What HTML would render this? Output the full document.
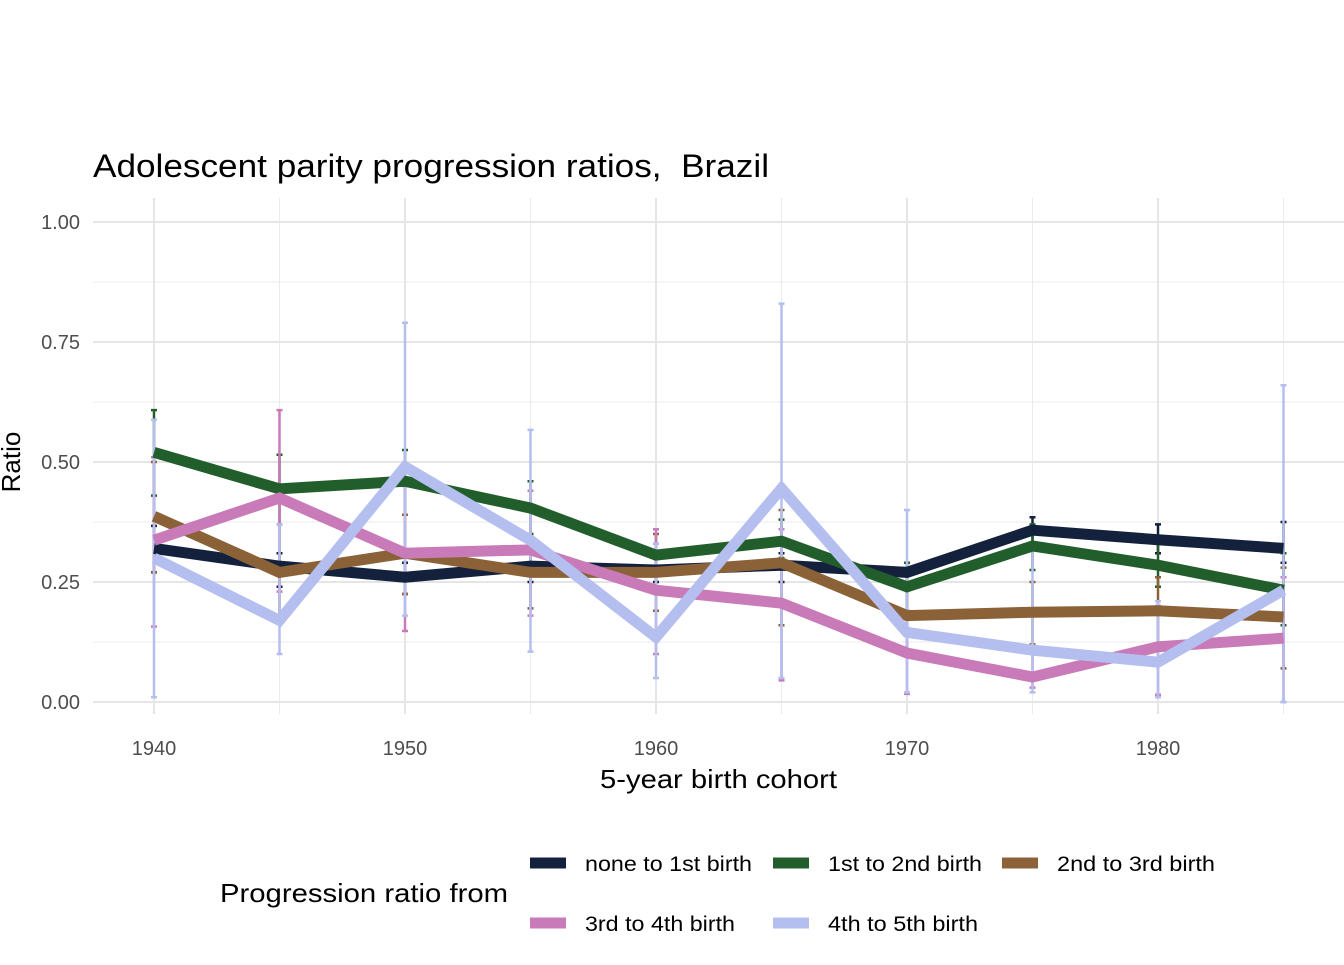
<!DOCTYPE html>
<html><head><meta charset="utf-8"><style>
body{margin:0;background:#fff;}
svg{font-family:"Liberation Sans",Arial,sans-serif;}
</style></head><body>
<svg id="chart" width="1344" height="960" viewBox="0 0 1344 960" xmlns="http://www.w3.org/2000/svg">
<rect width="1344" height="960" fill="#fff"/>
<g id="grid"></g>
<g id="errs"></g>
<g id="lines"></g>
<g id="axes"></g>
<text x="93" y="177" font-size="32" fill="#000" textLength="676" lengthAdjust="spacingAndGlyphs">Adolescent parity progression ratios,&#160; Brazil</text>
<text x="600" y="788" font-size="26" fill="#000" textLength="237" lengthAdjust="spacingAndGlyphs">5-year birth cohort</text>
<text transform="translate(20,462) rotate(-90)" font-size="26" text-anchor="middle" fill="#000">Ratio</text>
<text x="220" y="902" font-size="26" fill="#000" textLength="288" lengthAdjust="spacingAndGlyphs">Progression ratio from</text>
<g id="legend"></g>
</svg>
<script>
const years=[1940,1945,1950,1955,1960,1965,1970,1975,1980,1985];
const seriesNames=["none to 1st birth","1st to 2nd birth","2nd to 3rd birth","3rd to 4th birth","4th to 5th birth"];
const colors=["#14213d","#225e2c","#8b6238","#c97ab8","#b4bff0"];
const s0=[0.32,0.283,0.26,0.283,0.275,0.285,0.27,0.358,0.338,0.32];
const s1=[0.52,0.444,0.46,0.404,0.306,0.335,0.24,0.325,0.285,0.233];
const s2=[0.387,0.27,0.31,0.27,0.27,0.29,0.18,0.187,0.19,0.177];
const s3=[0.337,0.425,0.31,0.317,0.233,0.206,0.102,0.052,0.115,0.133];
const s4=[0.30,0.17,0.49,0.337,0.135,0.445,0.145,0.108,0.083,0.233];
const lo0=[0.27,0.24,0.225,0.25,0.25,0.25,0.25,0.33,0.31,0.29];
const hi0=[0.367,0.31,0.29,0.31,0.30,0.31,0.29,0.385,0.37,0.375];
const lo1=[0.43,0.37,0.39,0.35,0.28,0.30,0.19,0.275,0.24,0.16];
const hi1=[0.608,0.515,0.525,0.46,0.33,0.38,0.29,0.37,0.33,0.31];
const lo2=[0.27,0.18,0.225,0.195,0.19,0.16,0.10,0.12,0.11,0.07];
const hi2=[0.50,0.37,0.39,0.345,0.35,0.40,0.25,0.25,0.26,0.28];
const lo3=[0.157,0.23,0.148,0.18,0.10,0.045,0.017,0.03,0.015,0.0];
const hi3=[0.51,0.608,0.45,0.44,0.36,0.36,0.19,0.11,0.2,0.26];
const lo4=[0.01,0.10,0.18,0.105,0.05,0.05,0.02,0.02,0.01,0.0];
const hi4=[0.588,0.37,0.79,0.567,0.33,0.83,0.40,0.32,0.21,0.66];
const yTicks=[0,0.25,0.5,0.75,1.0];
const yTickLabels=["0.00","0.25","0.50","0.75","1.00"];
const xTicks=[1940,1950,1960,1970,1980];
const vals=[s0,s1,s2,s3,s4],los=[lo0,lo1,lo2,lo3,lo4],his=[hi0,hi1,hi2,hi3,hi4];
const NS="http://www.w3.org/2000/svg";
const X=v=>154+(v-1940)*25.1;
const Y=v=>702-v*480;
function mk(tag,attrs,parent){const e=document.createElementNS(NS,tag);for(const k in attrs)e.setAttribute(k,attrs[k]);parent.appendChild(e);return e;}
const grid=document.getElementById('grid'),axes=document.getElementById('axes');
for(let i=0;i<4;i++){const v=0.125+i*0.25;const l=mk('line',{x1:93,x2:1344,y1:Y(v),y2:Y(v),stroke:'#ebebeb','stroke-width':1},grid);

}
for(let y=1945;y<=1985;y+=10){const l=mk('line',{x1:X(y),x2:X(y),y1:198,y2:714,stroke:'#ebebeb','stroke-width':1},grid);

}
yTicks.forEach((v,i)=>{const l=mk('line',{x1:93,x2:1344,y1:Y(v),y2:Y(v),stroke:'#e5e5e5','stroke-width':2},grid);


const t=mk('text',{x:80,y:Y(v)+7,'text-anchor':'end','font-size':20,fill:'#4d4d4d'},axes);t.textContent=yTickLabels[i];

});
xTicks.forEach(v=>{const l=mk('line',{x1:X(v),x2:X(v),y1:198,y2:714,stroke:'#e5e5e5','stroke-width':2},grid);


const t=mk('text',{x:X(v),y:755,'text-anchor':'middle','font-size':20,fill:'#4d4d4d'},axes);t.textContent=v;

});
const errs=document.getElementById('errs'),lines=document.getElementById('lines');
for(let s=0;s<5;s++){years.forEach((yr,i)=>{const x=X(yr),a=Y(los[s][i]),b=Y(his[s][i]);
const e=mk('path',{d:`M${x-3},${a}H${x+3}M${x},${a}V${b}M${x-3},${b}H${x+3}`,stroke:colors[s],'stroke-width':2.5,fill:'none'},errs);

});}
for(let s=0;s<5;s++){const d=years.map((yr,i)=>(i?'L':'M')+X(yr)+','+Y(vals[s][i])).join('');
const p=mk('path',{d:d,stroke:colors[s],'stroke-width':11,fill:'none','stroke-linejoin':'miter'},lines);

}
const leg=document.getElementById('legend');
const lp=[[530,863],[773,863],[1002,863],[530,923],[773,923]];
const lw=[167,154,158,150,150];
for(let s=0;s<5;s++){const g=mk('g',{},leg);


mk('line',{x1:lp[s][0],x2:lp[s][0]+36,y1:lp[s][1],y2:lp[s][1],stroke:colors[s],'stroke-width':11},g);
const t=mk('text',{x:lp[s][0]+55,y:lp[s][1]+8,'font-size':21,fill:'#000',textLength:lw[s],lengthAdjust:'spacingAndGlyphs'},g);t.textContent=seriesNames[s];}
</script>
</body></html>
